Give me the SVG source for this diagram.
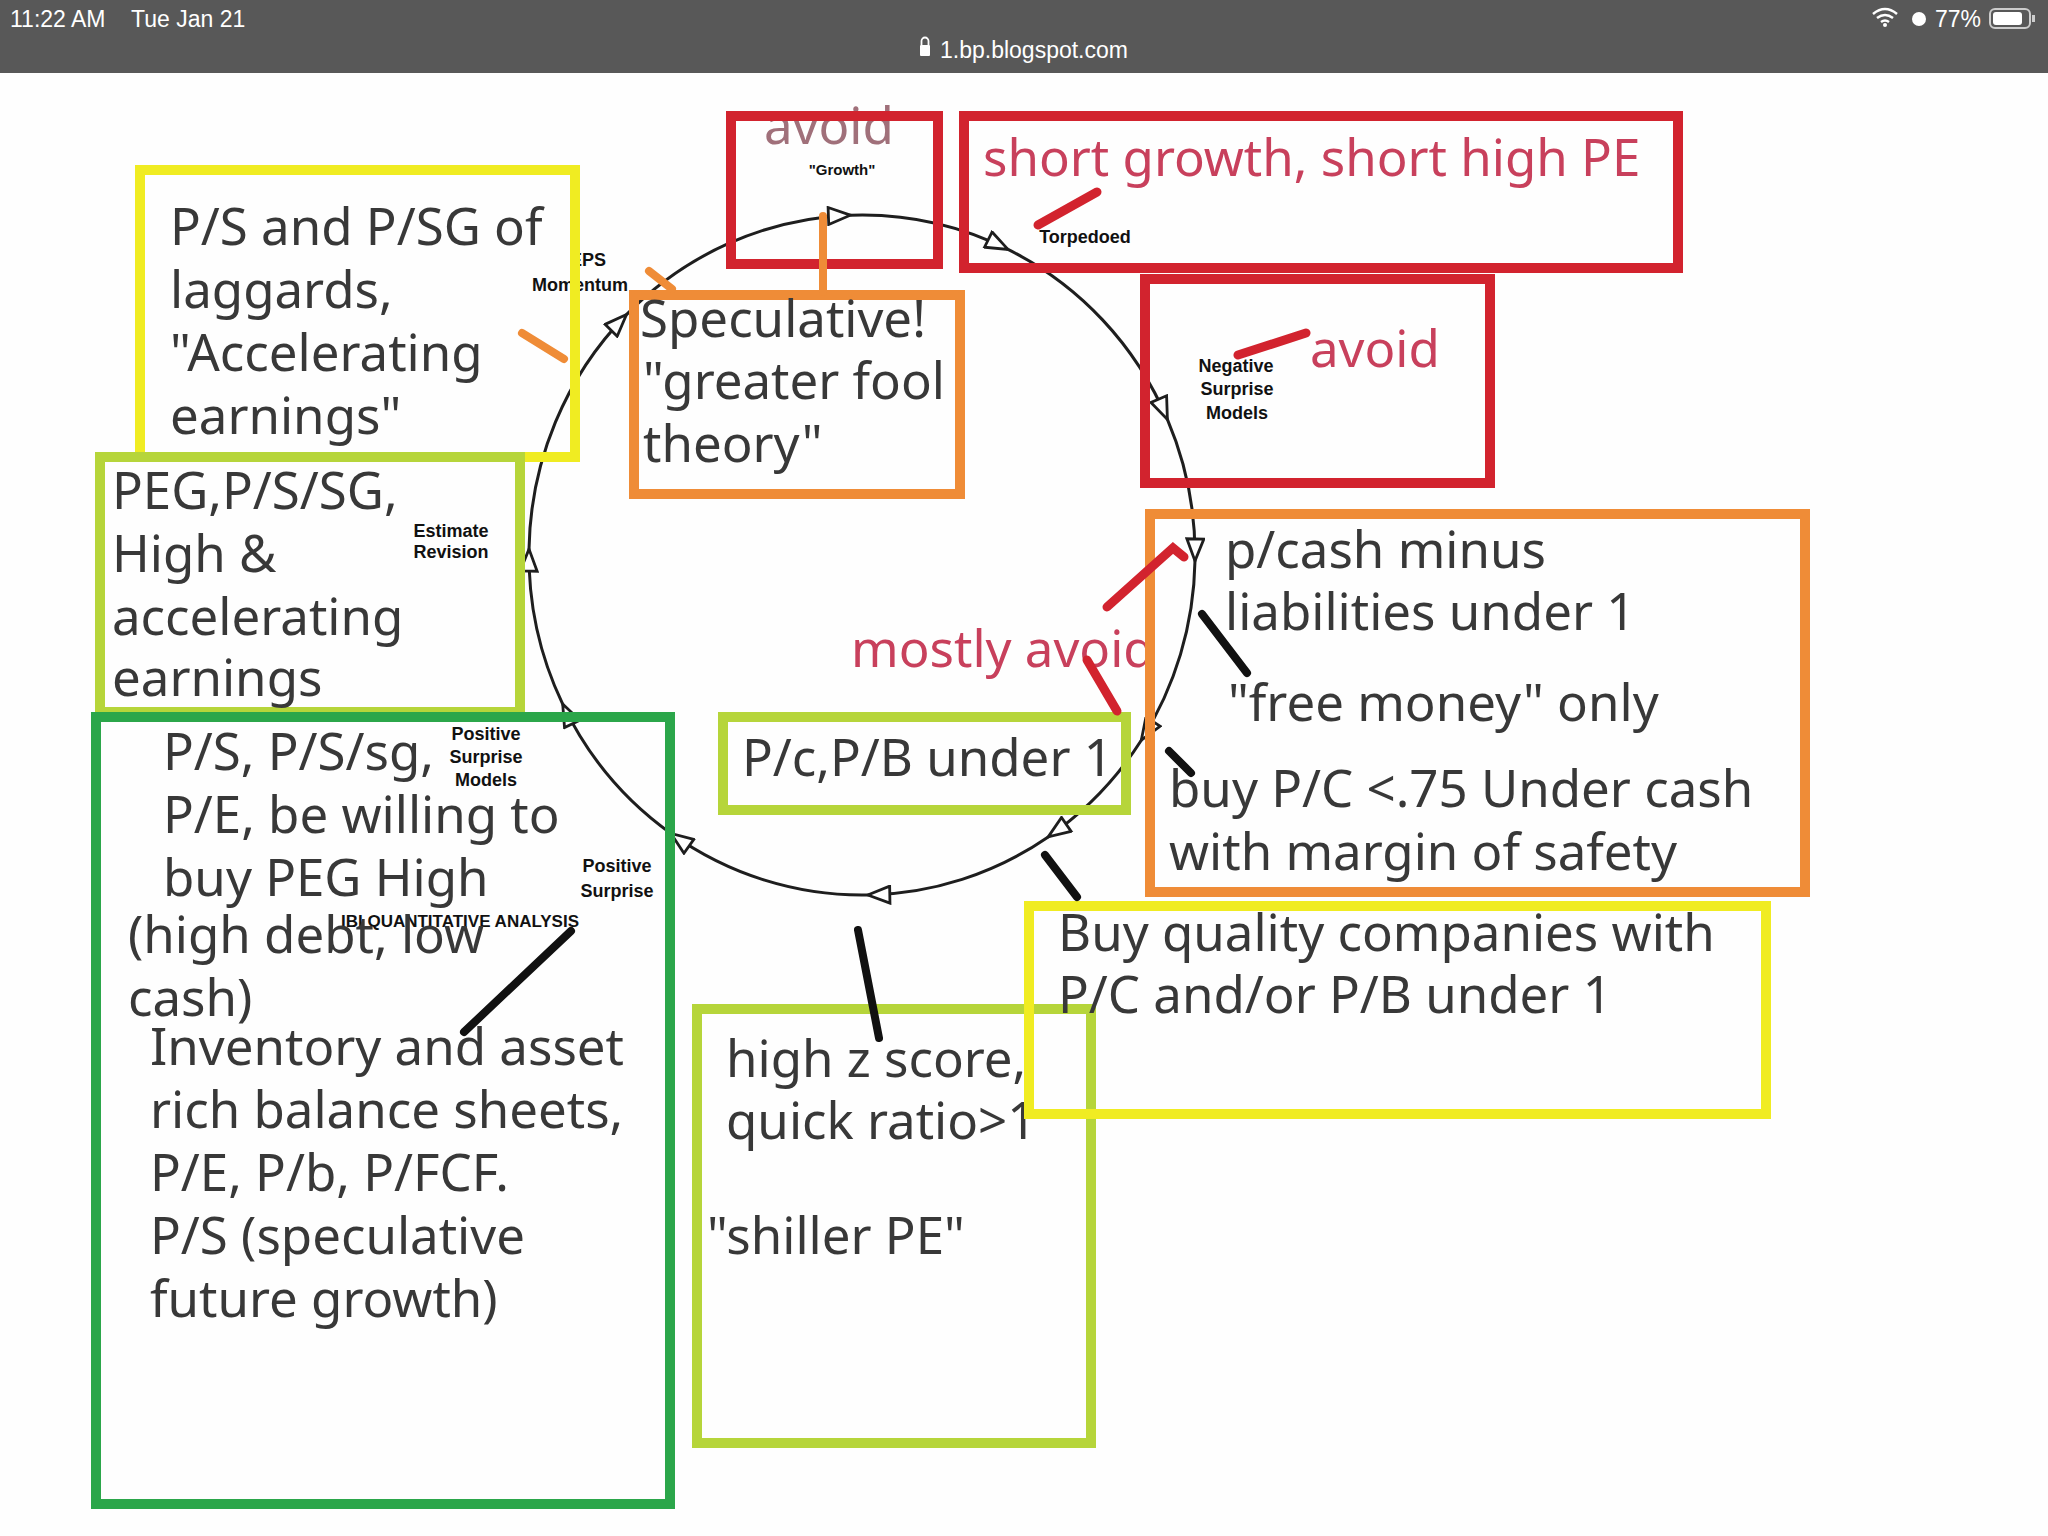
<svg xmlns="http://www.w3.org/2000/svg" width="2048" height="1536" viewBox="0 0 2048 1536">
<defs>
<style>
.bx{fill:none;stroke-width:10}
.red{stroke:#d2232e}
.org{stroke:#ef8c37}
.yel{stroke:#f0ec22}
.yg{stroke:#b6d53a}
.grn{stroke:#2ba64a}
.t{font-family:"Noto Sans","Open Sans",sans-serif;font-size:51px;fill:#383838}
.tr{font-family:"Noto Sans","Open Sans",sans-serif;font-size:51px;fill:#c8405c}
.s{font-family:"Liberation Sans",Arial,sans-serif;font-size:18px;font-weight:bold;fill:#111;text-anchor:middle}
.sb{font-family:"Liberation Sans",Arial,sans-serif;fill:#fff;font-size:23px}
.arc{fill:none;stroke:#1e1e1e;stroke-width:3;marker-end:url(#ah)}
.blk{stroke:#111;stroke-width:8;stroke-linecap:round}
.rl{stroke:#d2232e;stroke-width:9;stroke-linecap:round;fill:none}
.ol{stroke:#ef8c37;stroke-width:8;stroke-linecap:round}
</style>
<marker id="ah" viewBox="0 0 26 20" refX="24" refY="10" markerWidth="26" markerHeight="20" markerUnits="userSpaceOnUse" orient="auto">
<path d="M2,1.5 L24,10 L2,18.5 Z" fill="#fff" stroke="#1e1e1e" stroke-width="2.8"/>
</marker>
</defs>
<rect width="2048" height="1536" fill="#fefefe"/>
<g id="statusbar">
<rect x="0" y="0" width="2048" height="73" fill="#585858"/>
<text class="sb" x="10" y="27">11:22 AM</text>
<text class="sb" x="131" y="27">Tue Jan 21</text>
<rect x="920" y="45" width="10" height="11" rx="1" fill="#fff"/>
<path d="M921.5,45 v-4 a3.5,3.5 0 0 1 7,0 v4" fill="none" stroke="#fff" stroke-width="1.8"/>
<text class="sb" x="940" y="58">1.bp.blogspot.com</text>
<path d="M1873,14 q12,-10 24,0 M1877,18 q8,-6 16,0 M1881,22 q4,-3 8,0" fill="none" stroke="#fff" stroke-width="2.5"/>
<circle cx="1885" cy="25" r="2" fill="#fff"/>
<circle cx="1919" cy="19" r="7" fill="#fff"/>
<text class="sb" x="1935" y="27">77%</text>
<rect x="1990" y="9" width="40" height="19" rx="5" fill="none" stroke="#ccc" stroke-width="2"/>
<rect x="1993" y="12" width="29" height="13" rx="3" fill="#fff"/>
<rect x="2032" y="15" width="3" height="7" fill="#ccc"/>
</g>
<g id="connectors">
<path class="arc" d="M850.4,215.2 A333,340 0 0 1 1008.0,249.4"/>
<path class="arc" d="M1008.0,249.4 A333,340 0 0 1 1167.4,419.4"/>
<path class="arc" d="M1167.4,419.4 A333,340 0 0 1 1195.0,560.9"/>
<path class="arc" d="M1195.0,560.9 A333,340 0 0 1 1141.3,740.2"/>
<path class="arc" d="M1141.3,740.2 A333,340 0 0 1 1048.2,836.9"/>
<path class="arc" d="M1048.2,836.9 A333,340 0 0 1 867.8,895.0"/>
<path class="arc" d="M867.8,895.0 A333,340 0 0 1 671.0,833.5"/>
<path class="arc" d="M671.0,833.5 A333,340 0 0 1 562.7,704.1"/>
<path class="arc" d="M562.7,704.1 A333,340 0 0 1 529.0,549.1"/>
<path class="arc" d="M529.0,549.1 A333,340 0 0 1 626.5,314.6"/>
<path class="arc" d="M626.5,314.6 A333,340 0 0 1 850.4,215.2"/>
</g>
<g id="labels">
<text class="s" x="588" y="266">EPS</text>
<text class="s" x="580" y="291">Momentum</text>
<text class="s" x="451" y="537">Estimate</text>
<text class="s" x="451" y="558">Revision</text>
<text class="s" x="486" y="740">Positive</text>
<text class="s" x="486" y="763">Surprise</text>
<text class="s" x="486" y="786">Models</text>
<text class="s" x="617" y="872">Positive</text>
<text class="s" x="617" y="897">Surprise</text>
<text class="s" x="460" y="927" style="font-size:17px">IBI QUANTITATIVE ANALYSIS</text>
</g>
<g id="n-laggards">
<rect class="bx yel" x="140" y="170" width="435" height="287"/>
<text class="t" x="170" y="245">P/S and P/SG of</text>
<text class="t" x="170" y="308">laggards,</text>
<text class="t" x="170" y="371">"Accelerating</text>
<text class="t" x="170" y="434">earnings"</text>
</g>
<g id="n-peg">
<rect class="bx yg" x="100" y="457" width="420" height="255"/>
<text class="t" x="112" y="509">PEG,P/S/SG,</text>
<text class="t" x="112" y="572">High &amp;</text>
<text class="t" x="112" y="635">accelerating</text>
<text class="t" x="112" y="696">earnings</text>
</g>
<g id="n-quant">
<rect class="bx grn" x="96" y="717" width="574" height="787"/>
<text class="t" x="163" y="770">P/S, P/S/sg,</text>
<text class="t" x="163" y="833">P/E, be willing to</text>
<text class="t" x="163" y="896">buy PEG High</text>
<text class="t" x="128" y="953">(high debt, low</text>
<text class="t" x="128" y="1016">cash)</text>
<text class="t" x="150" y="1065">Inventory and asset</text>
<text class="t" x="150" y="1128">rich balance sheets,</text>
<text class="t" x="150" y="1191">P/E, P/b, P/FCF.</text>
<text class="t" x="150" y="1254">P/S (speculative</text>
<text class="t" x="150" y="1317">future growth)</text>
</g>
<g id="n-avoid-growth">
<text class="tr" x="764" y="144" style="fill:#a0707a">avoid</text>
<text class="s" x="842" y="175" style="font-size:15px">"Growth"</text>
<rect class="bx red" x="731" y="116" width="207" height="148"/>
</g>
<g id="n-short">
<rect class="bx red" x="964" y="116" width="714" height="152"/>
<text class="tr" x="983" y="176">short growth, short high PE</text>
<text class="s" x="1085" y="243">Torpedoed</text>
</g>
<g id="n-avoid-neg">
<rect class="bx red" x="1145" y="279" width="345" height="204"/>
<text class="tr" x="1310" y="367">avoid</text>
<text class="s" x="1236" y="372">Negative</text>
<text class="s" x="1237" y="395">Surprise</text>
<text class="s" x="1237" y="419">Models</text>
</g>
<g id="n-speculative">
<rect class="bx org" x="634" y="295" width="326" height="199"/>
<text class="t" x="640" y="337">Speculative!</text>
<text class="t" x="643" y="399">"greater fool</text>
<text class="t" x="643" y="462">theory"</text>
</g>
<g id="n-mostly">
<text class="tr" x="851" y="667">mostly avoid</text>
</g>
<g id="n-pcash">
<rect class="bx org" x="1150" y="514" width="655" height="378"/>
<text class="t" x="1225" y="568">p/cash minus</text>
<text class="t" x="1225" y="630">liabilities under 1</text>
<text class="t" x="1228" y="721">"free money" only</text>
<text class="t" x="1169" y="807">buy P/C &lt;.75 Under cash</text>
<text class="t" x="1169" y="870">with margin of safety</text>
</g>
<g id="n-pc-pb">
<rect class="bx yg" x="723" y="717" width="403" height="93"/>
<text class="t" x="742" y="776">P/c,P/B under 1</text>
</g>
<g id="n-zscore">
<rect class="bx yg" x="697" y="1009" width="394" height="434"/>
<text class="t" x="726" y="1077">high z score,</text>
<text class="t" x="726" y="1139">quick ratio&gt;1</text>
<text class="t" x="707" y="1254">"shiller PE"</text>
</g>
<g id="n-quality">
<rect class="bx yel" x="1029" y="906" width="737" height="208"/>
<text class="t" x="1058" y="951">Buy quality companies with</text>
<text class="t" x="1058" y="1013">P/C and/or P/B under 1</text>
</g>
<g id="marks">
<line class="ol" x1="823" y1="216" x2="823" y2="292"/>
<line class="ol" x1="522" y1="333" x2="564" y2="359"/>
<line class="ol" x1="649" y1="271" x2="672" y2="289"/>
<line class="rl" x1="1038" y1="225" x2="1097" y2="192"/>
<line class="rl" x1="1238" y1="355" x2="1306" y2="333"/>
<path class="rl" d="M1107,607 L1173,548 L1184,557"/>
<line class="rl" x1="1087" y1="660" x2="1117" y2="711"/>
<line class="blk" x1="1202" y1="614" x2="1247" y2="673"/>
<line class="blk" x1="1169" y1="751" x2="1191" y2="773"/>
<line class="blk" x1="1045" y1="855" x2="1077" y2="897"/>
<line class="blk" x1="858" y1="930" x2="879" y2="1038"/>
<line class="blk" x1="464" y1="1032" x2="571" y2="931"/>
</g>
</svg>
